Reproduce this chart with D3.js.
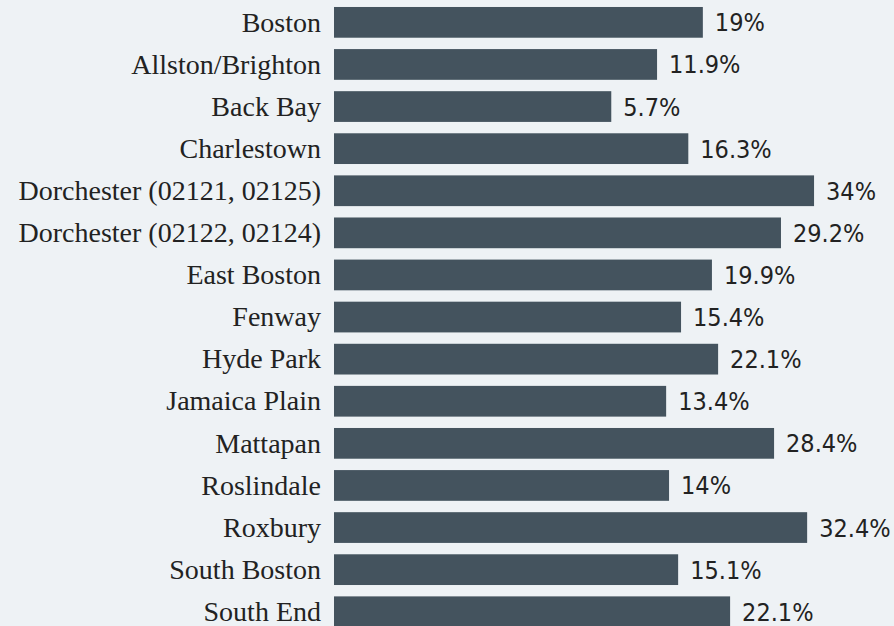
<!DOCTYPE html>
<html>
<head>
<meta charset="utf-8">
<script src="https://cdn.jsdelivr.net/npm/d3@7/dist/d3.min.js"></script>
<style>
  html, body { margin: 0; padding: 0; background: #eef2f5; overflow: hidden; }
  svg { display: block; }
  .cat { font-family: 'Liberation Serif', 'Times New Roman', serif; font-size: 28px; fill: #222; }
  .val { font-family: 'DejaVu Sans Condensed', 'DejaVu Sans', sans-serif; font-stretch: condensed; font-size: 25px; fill: #222; }
</style>
</head>
<body>
<div id="chart"></div>
<script>
const neighborhoods = [
  'Boston', 'Allston/Brighton', 'Back Bay', 'Charlestown',
  'Dorchester (02121, 02125)', 'Dorchester (02122, 02124)', 'East Boston',
  'Fenway', 'Hyde Park', 'Jamaica Plain', 'Mattapan', 'Roslindale',
  'Roxbury', 'South Boston', 'South End'
];
// printed labels
const percents = [19, 11.9, 5.7, 16.3, 34, 29.2, 19.9, 15.4, 22.1, 13.4, 28.4, 14, 32.4, 15.1, 22.1];
// bar lengths as drawn (they don't follow the labels exactly)
const barValues = [18.5, 12.2, 5.9, 16.5, 33.8, 29.25, 19.75, 15.5, 20.6, 13.45, 28.3, 13.85, 32.85, 15.1, 22.25];

const width = 894, height = 626;
const data = neighborhoods.map((n, i) => ({ name: n, value: barValues[i], label: percents[i] }));

const svg = d3.select('#chart').append('svg')
  .attr('width', width)
  .attr('height', height);

// bars start from a fixed left edge; the value scale is offset like the source
const x = d3.scaleLinear()
  .domain([-32.25, 34])
  .range([334, 815.5]);

const step = 42.1;
const y = d3.scaleBand()
  .domain(neighborhoods)
  .range([1.3, 1.3 + step * neighborhoods.length])
  .paddingInner(0.27)
  .paddingOuter(0.135);

const rows = svg.selectAll('.row')
  .data(data)
  .enter().append('g')
  .attr('class', 'row');

rows.append('rect')
  .attr('x', x(x.domain()[0]))
  .attr('y', d => y(d.name))
  .attr('width', d => x(d.value) - x(x.domain()[0]))
  .attr('height', y.bandwidth())
  .attr('fill', '#44535e');

rows.append('text')
  .attr('class', 'cat')
  .attr('x', x(x.domain()[0]) - 13)
  .attr('y', d => y(d.name) + y.bandwidth() / 2)
  .attr('dy', '0.33em')
  .attr('text-anchor', 'end')
  .text(d => d.name);

rows.append('text')
  .attr('class', 'val')
  .attr('x', d => x(d.value) + 12)
  .attr('y', d => y(d.name) + y.bandwidth() / 2)
  .attr('dy', '0.36em')
  .text(d => d.label + '%');
</script>
</body>
</html>
